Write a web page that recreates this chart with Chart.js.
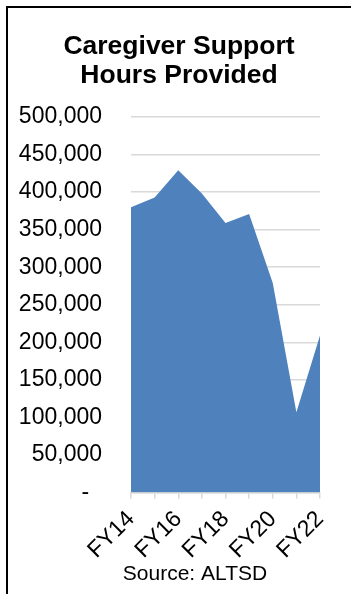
<!DOCTYPE html>
<html>
<head>
<meta charset="utf-8">
<script src="https://cdn.jsdelivr.net/npm/chart.js@4"></script>
<style>
    html, body { margin: 0; padding: 0; background: #fff; overflow: hidden; }
    #wrap { position: relative; width: 351px; height: 594px; }
    #frame {
        position: absolute; left: 6px; top: 6px; width: 400px; height: 700px;
        border-left: 2px solid #000; border-top: 2px solid #000;
    }
    #myChart { position: absolute; left: 0; top: 0; }
</style>
</head>
<body>
<div id="wrap">
    <div id="frame"></div>
    <canvas id="myChart" width="351" height="594"></canvas>
</div>
<script>
var years = ['FY14', 'FY15', 'FY16', 'FY17', 'FY18', 'FY19', 'FY20', 'FY21', 'FY22'];
var supportHours = [380000, 393000, 429000, 398000, 359000, 371000, 279000, 107000, 209000];
var titleLines = ['Caregiver Support', 'Hours Provided'];
var sourceNote = 'Source: ALTSD';

var FONT = '"Liberation Sans", Arial, sans-serif';

// title and source line drawn straight onto the canvas
var notesPlugin = {
    id: 'notes',
    afterDraw: function (chart) {
        var c = chart.ctx;
        c.save();
        c.fillStyle = '#000';
        c.textAlign = 'center';
        c.textBaseline = 'middle';
        c.font = 'bold 26.5px ' + FONT;
        c.fillText(titleLines[0], 179, 47);
        c.fillText(titleLines[1], 179, 76);
        c.font = '21px ' + FONT;
        c.fillText(sourceNote, 195, 574);
        c.restore();
    }
};

document.addEventListener('DOMContentLoaded', function () {
    var ctx = document.getElementById('myChart').getContext('2d');

    var myChart = new Chart(ctx, {
        type: 'line',
        data: {
            labels: years,
            datasets: [{
                label: 'Hours',
                data: supportHours,
                fill: 'origin',
                backgroundColor: '#4F81BD',
                borderWidth: 0,
                pointRadius: 0,
                tension: 0
            }]
        },
        options: {
            responsive: false,
            animation: false,
            layout: {
                padding: { left: 18, right: 31, top: 117, bottom: 23 }
            },
            plugins: {
                legend: { display: false },
                title: { display: false },
                tooltip: { enabled: false }
            },
            scales: {
                x: {
                    grid: {
                        drawOnChartArea: false,
                        drawTicks: true,
                        tickLength: 6,
                        color: '#d9d9d9',
                        lineWidth: 1.5
                    },
                    border: { display: true, color: '#d9d9d9', width: 1.5 },
                    ticks: {
                        autoSkip: false,
                        minRotation: 45,
                        maxRotation: 45,
                        padding: 7,
                        color: '#000',
                        font: { family: FONT, size: 23 },
                        callback: function (value, index) {
                            return index % 2 === 0 ? years[index] : '';
                        }
                    }
                },
                y: {
                    min: 0,
                    max: 500000,
                    // fixed axis width: labels plus a single gap
                    afterFit: function (scale) {
                        scale.width = 113;
                    },
                    grid: {
                        color: '#d9d9d9',
                        lineWidth: 1.5,
                        drawTicks: false
                    },
                    border: { display: false },
                    ticks: {
                        stepSize: 50000,
                        padding: 29,
                        color: '#000',
                        font: { family: FONT, size: 23 },
                        callback: function (value) {
                            if (value === 0) {
                                return '-  ';
                            }
                            return value.toLocaleString('en-US');
                        }
                    }
                }
            }
        },
        plugins: [notesPlugin]
    });
});
</script>
</body>
</html>
